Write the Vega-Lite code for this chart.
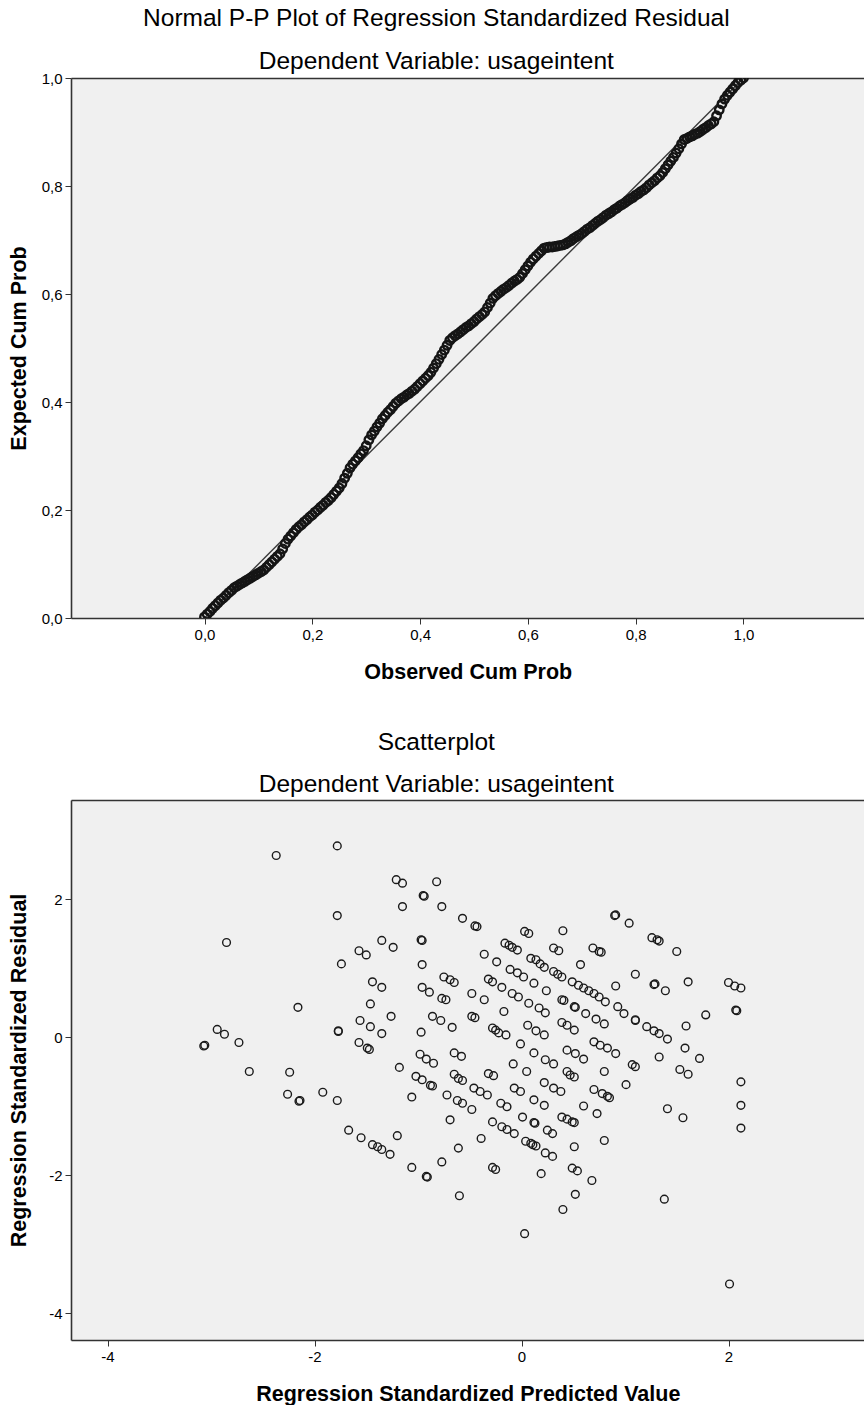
{
  "$schema": "https://vega.github.io/schema/vega-lite/v6.json",
  "background": "white",
  "padding": {"left": 8, "top": 6, "right": 0, "bottom": 0},
  "config": {
    "font": "Liberation Sans",
    "view": {"stroke": null},
    "axis": {
      "labelFont": "Liberation Sans",
      "titleFont": "Liberation Sans",
      "labelFontSize": 15,
      "titleFontSize": 21.5,
      "titleFontWeight": "bold",
      "labelColor": "#000",
      "titleColor": "#000",
      "domainColor": "#333",
      "domainWidth": 1.6,
      "tickColor": "#333",
      "tickSize": 6,
      "tickWidth": 1,
      "grid": false,
      "labelPadding": 3
    },
    "title": {"font": "Liberation Sans", "fontWeight": "normal", "color": "#000", "subtitleColor": "#000", "subtitleFont": "Liberation Sans", "anchor": "middle", "frame": "bounds"}
  },
  "spacing": 46,
  "vconcat": [
    {
      "title": {"text": "Normal P-P Plot of Regression Standardized Residual", "subtitle": "Dependent Variable: usageintent", "fontSize": 24.5, "subtitleFontSize": 24.5, "subtitlePadding": 18, "offset": -3, "frame": "bounds"},
      "width": 793.5,
      "height": 540,
      "view": {"fill": "#f0f0f0", "stroke": null},
      "resolve": {"axis": {"x": "independent"}},
      "layer": [
        {
          "data": {"values": [{"observed": 0, "expected": 0}, {"observed": 1, "expected": 1}]},
          "mark": {"type": "line", "color": "#3a3a3a", "strokeWidth": 1.4, "clip": true},
          "encoding": {
            "x": {"field": "observed", "type": "quantitative", "scale": {"domain": [-0.2477, 1.2245], "nice": false, "zero": false},
                  "axis": {"orient": "top", "labels": false, "ticks": false, "title": null}},
            "y": {"field": "expected", "type": "quantitative", "scale": {"domain": [0, 1], "nice": false},
                  "axis": {"values": [0, 0.2, 0.4, 0.6, 0.8, 1], "labelExpr": "replace(format(datum.value, '.1f'), '.', ',')", "title": "Expected Cum Prob", "titlePadding": 11}}
          }
        },
        {
          "data": {"values": [
            {"observed":0.000,"expected":0.002},{"observed":0.005,"expected":0.007},{"observed":0.010,"expected":0.012},{"observed":0.015,"expected":0.018},{"observed":0.020,"expected":0.023},
            {"observed":0.025,"expected":0.028},{"observed":0.030,"expected":0.033},{"observed":0.035,"expected":0.037},{"observed":0.040,"expected":0.042},{"observed":0.045,"expected":0.047},
            {"observed":0.050,"expected":0.051},{"observed":0.055,"expected":0.056},{"observed":0.060,"expected":0.059},{"observed":0.065,"expected":0.062},{"observed":0.070,"expected":0.065},
            {"observed":0.075,"expected":0.068},{"observed":0.080,"expected":0.071},{"observed":0.085,"expected":0.074},{"observed":0.090,"expected":0.077},{"observed":0.095,"expected":0.080},
            {"observed":0.100,"expected":0.083},{"observed":0.105,"expected":0.086},{"observed":0.110,"expected":0.089},{"observed":0.115,"expected":0.094},{"observed":0.120,"expected":0.099},
            {"observed":0.125,"expected":0.104},{"observed":0.130,"expected":0.109},{"observed":0.135,"expected":0.114},{"observed":0.140,"expected":0.119},{"observed":0.145,"expected":0.128},
            {"observed":0.150,"expected":0.138},{"observed":0.155,"expected":0.146},{"observed":0.160,"expected":0.152},{"observed":0.165,"expected":0.158},{"observed":0.170,"expected":0.164},
            {"observed":0.175,"expected":0.169},{"observed":0.180,"expected":0.173},{"observed":0.185,"expected":0.178},{"observed":0.190,"expected":0.182},{"observed":0.195,"expected":0.187},
            {"observed":0.200,"expected":0.191},{"observed":0.205,"expected":0.196},{"observed":0.210,"expected":0.200},{"observed":0.215,"expected":0.205},{"observed":0.220,"expected":0.209},
            {"observed":0.225,"expected":0.214},{"observed":0.230,"expected":0.218},{"observed":0.235,"expected":0.223},{"observed":0.240,"expected":0.229},{"observed":0.245,"expected":0.235},
            {"observed":0.250,"expected":0.241},{"observed":0.255,"expected":0.249},{"observed":0.260,"expected":0.259},{"observed":0.265,"expected":0.268},{"observed":0.270,"expected":0.278},
            {"observed":0.275,"expected":0.285},{"observed":0.280,"expected":0.291},{"observed":0.285,"expected":0.297},{"observed":0.290,"expected":0.304},{"observed":0.295,"expected":0.310},
            {"observed":0.300,"expected":0.319},{"observed":0.305,"expected":0.330},{"observed":0.310,"expected":0.339},{"observed":0.315,"expected":0.346},{"observed":0.320,"expected":0.354},
            {"observed":0.325,"expected":0.361},{"observed":0.330,"expected":0.369},{"observed":0.335,"expected":0.375},{"observed":0.340,"expected":0.381},{"observed":0.345,"expected":0.386},
            {"observed":0.350,"expected":0.392},{"observed":0.355,"expected":0.398},{"observed":0.360,"expected":0.402},{"observed":0.365,"expected":0.406},{"observed":0.370,"expected":0.409},
            {"observed":0.375,"expected":0.413},{"observed":0.380,"expected":0.416},{"observed":0.385,"expected":0.420},{"observed":0.390,"expected":0.424},{"observed":0.395,"expected":0.429},
            {"observed":0.400,"expected":0.434},{"observed":0.405,"expected":0.439},{"observed":0.410,"expected":0.444},{"observed":0.415,"expected":0.449},{"observed":0.420,"expected":0.455},
            {"observed":0.425,"expected":0.463},{"observed":0.430,"expected":0.471},{"observed":0.435,"expected":0.479},{"observed":0.440,"expected":0.488},{"observed":0.445,"expected":0.496},
            {"observed":0.450,"expected":0.505},{"observed":0.455,"expected":0.514},{"observed":0.460,"expected":0.519},{"observed":0.465,"expected":0.523},{"observed":0.470,"expected":0.526},
            {"observed":0.475,"expected":0.530},{"observed":0.480,"expected":0.534},{"observed":0.485,"expected":0.538},{"observed":0.490,"expected":0.541},{"observed":0.495,"expected":0.545},
            {"observed":0.500,"expected":0.549},{"observed":0.505,"expected":0.554},{"observed":0.510,"expected":0.558},{"observed":0.515,"expected":0.562},{"observed":0.520,"expected":0.567},
            {"observed":0.525,"expected":0.575},{"observed":0.530,"expected":0.583},{"observed":0.535,"expected":0.592},{"observed":0.540,"expected":0.597},{"observed":0.545,"expected":0.601},
            {"observed":0.550,"expected":0.605},{"observed":0.555,"expected":0.609},{"observed":0.560,"expected":0.612},{"observed":0.565,"expected":0.616},{"observed":0.570,"expected":0.620},
            {"observed":0.575,"expected":0.624},{"observed":0.580,"expected":0.627},{"observed":0.585,"expected":0.631},{"observed":0.590,"expected":0.638},{"observed":0.595,"expected":0.645},
            {"observed":0.600,"expected":0.652},{"observed":0.605,"expected":0.659},{"observed":0.610,"expected":0.665},{"observed":0.615,"expected":0.670},{"observed":0.620,"expected":0.675},
            {"observed":0.625,"expected":0.680},{"observed":0.630,"expected":0.685},{"observed":0.635,"expected":0.686},{"observed":0.640,"expected":0.687},{"observed":0.645,"expected":0.687},
            {"observed":0.650,"expected":0.688},{"observed":0.655,"expected":0.689},{"observed":0.660,"expected":0.690},{"observed":0.665,"expected":0.691},{"observed":0.670,"expected":0.693},
            {"observed":0.675,"expected":0.696},{"observed":0.680,"expected":0.699},{"observed":0.685,"expected":0.703},{"observed":0.690,"expected":0.706},{"observed":0.695,"expected":0.709},
            {"observed":0.700,"expected":0.712},{"observed":0.705,"expected":0.716},{"observed":0.710,"expected":0.720},{"observed":0.715,"expected":0.723},{"observed":0.720,"expected":0.727},
            {"observed":0.725,"expected":0.731},{"observed":0.730,"expected":0.735},{"observed":0.735,"expected":0.738},{"observed":0.740,"expected":0.742},{"observed":0.745,"expected":0.746},
            {"observed":0.750,"expected":0.749},{"observed":0.755,"expected":0.752},{"observed":0.760,"expected":0.756},{"observed":0.765,"expected":0.759},{"observed":0.770,"expected":0.763},
            {"observed":0.775,"expected":0.766},{"observed":0.780,"expected":0.769},{"observed":0.785,"expected":0.773},{"observed":0.790,"expected":0.776},{"observed":0.795,"expected":0.779},
            {"observed":0.800,"expected":0.783},{"observed":0.805,"expected":0.786},{"observed":0.810,"expected":0.790},{"observed":0.815,"expected":0.793},{"observed":0.820,"expected":0.797},
            {"observed":0.825,"expected":0.802},{"observed":0.830,"expected":0.806},{"observed":0.835,"expected":0.810},{"observed":0.840,"expected":0.815},{"observed":0.845,"expected":0.819},
            {"observed":0.850,"expected":0.825},{"observed":0.855,"expected":0.832},{"observed":0.860,"expected":0.839},{"observed":0.865,"expected":0.846},{"observed":0.870,"expected":0.853},
            {"observed":0.875,"expected":0.861},{"observed":0.880,"expected":0.869},{"observed":0.885,"expected":0.878},{"observed":0.890,"expected":0.886},{"observed":0.895,"expected":0.888},
            {"observed":0.900,"expected":0.891},{"observed":0.905,"expected":0.893},{"observed":0.910,"expected":0.896},{"observed":0.915,"expected":0.898},{"observed":0.920,"expected":0.901},
            {"observed":0.925,"expected":0.905},{"observed":0.930,"expected":0.908},{"observed":0.935,"expected":0.912},{"observed":0.940,"expected":0.915},{"observed":0.945,"expected":0.919},
            {"observed":0.950,"expected":0.930},{"observed":0.955,"expected":0.941},{"observed":0.960,"expected":0.952},{"observed":0.965,"expected":0.961},{"observed":0.970,"expected":0.968},
            {"observed":0.975,"expected":0.974},{"observed":0.980,"expected":0.980},{"observed":0.985,"expected":0.986},{"observed":0.990,"expected":0.992},{"observed":0.995,"expected":0.996},
            {"observed":1.000,"expected":1.000}
          ]},
          "mark": {"type": "point", "shape": "circle", "filled": false, "size": 72, "stroke": "#151515", "strokeWidth": 2.4, "opacity": 1, "clip": true},
          "encoding": {
            "x": {"field": "observed", "type": "quantitative", "scale": {"domain": [-0.2477, 1.2245], "nice": false, "zero": false},
                  "axis": {"orient": "bottom", "values": [0, 0.2, 0.4, 0.6, 0.8, 1], "labelExpr": "replace(format(datum.value, '.1f'), '.', ',')", "title": "Observed Cum Prob", "titlePadding": 19}},
            "y": {"field": "expected", "type": "quantitative", "scale": {"domain": [0, 1], "nice": false},
                  "axis": {"values": [0, 0.2, 0.4, 0.6, 0.8, 1], "labelExpr": "replace(format(datum.value, '.1f'), '.', ',')", "title": "Expected Cum Prob", "titlePadding": 11}}
          }
        }
      ]
    },
    {
      "title": {"text": "Scatterplot", "subtitle": "Dependent Variable: usageintent", "fontSize": 24.5, "subtitleFontSize": 24.5, "subtitlePadding": 18, "offset": 2.5, "frame": "bounds"},
      "width": 793.5,
      "height": 540,
      "view": {"fill": "#f0f0f0", "stroke": null},
      "resolve": {"axis": {"x": "independent"}},
      "layer": [
        {
          "data": {"values": [{"pred": 0, "resid": 0}]},
          "mark": {"type": "point", "opacity": 0},
          "encoding": {
            "x": {"field": "pred", "type": "quantitative", "scale": {"domain": [-4.3527, 3.314], "nice": false, "zero": false},
                  "axis": {"orient": "top", "labels": false, "ticks": false, "title": null}},
            "y": {"field": "resid", "type": "quantitative", "scale": {"domain": [-4.391, 3.435], "nice": false, "zero": false},
                  "axis": {"values": [-4, -2, 0, 2], "labelExpr": "datum.value < 0 ? '-' + abs(datum.value) : '' + datum.value", "title": "Regression Standardized Residual", "titlePadding": 18.5}}
          }
        },
        {
          "data": {"values": [
            {"pred":-2.37,"resid":2.63},{"pred":-1.78,"resid":2.77},{"pred":-1.21,"resid":2.28},{"pred":-1.15,"resid":2.23},{"pred":-0.95,"resid":2.05},{"pred":-0.94,"resid":2.04},
            {"pred":-1.15,"resid":1.89},{"pred":-1.78,"resid":1.76},{"pred":-2.85,"resid":1.37},{"pred":-1.35,"resid":1.40},{"pred":-1.24,"resid":1.30},{"pred":-1.57,"resid":1.25},
            {"pred":-1.50,"resid":1.19},{"pred":-0.97,"resid":1.41},{"pred":-0.96,"resid":1.40},{"pred":-1.74,"resid":1.06},{"pred":-0.96,"resid":1.05},{"pred":-1.44,"resid":0.80},
            {"pred":-1.35,"resid":0.72},{"pred":-0.96,"resid":0.72},{"pred":-0.89,"resid":0.65},{"pred":-1.46,"resid":0.48},{"pred":-2.16,"resid":0.43},{"pred":-1.26,"resid":0.30},
            {"pred":-0.86,"resid":0.30},{"pred":-1.56,"resid":0.24},{"pred":-1.46,"resid":0.15},{"pred":-1.35,"resid":0.05},{"pred":-0.97,"resid":0.07},{"pred":-1.77,"resid":0.09},
            {"pred":-1.77,"resid":0.08},{"pred":-2.94,"resid":0.11},{"pred":-2.87,"resid":0.04},{"pred":-2.73,"resid":-0.08},{"pred":-3.07,"resid":-0.13},{"pred":-3.06,"resid":-0.12},
            {"pred":-1.57,"resid":-0.08},{"pred":-1.49,"resid":-0.16},{"pred":-1.47,"resid":-0.18},{"pred":-0.98,"resid":-0.25},{"pred":-0.92,"resid":-0.32},{"pred":-1.18,"resid":-0.44},
            {"pred":-2.63,"resid":-0.50},{"pred":-2.24,"resid":-0.51},{"pred":-1.02,"resid":-0.57},{"pred":-0.96,"resid":-0.62},{"pred":-0.88,"resid":-0.70},
            {"pred":-2.26,"resid":-0.83},{"pred":-2.15,"resid":-0.93},{"pred":-2.14,"resid":-0.92},{"pred":-1.92,"resid":-0.80},{"pred":-1.78,"resid":-0.92},{"pred":-1.06,"resid":-0.87},
            {"pred":-1.67,"resid":-1.35},{"pred":-1.55,"resid":-1.46},{"pred":-1.44,"resid":-1.56},{"pred":-1.39,"resid":-1.59},{"pred":-1.35,"resid":-1.63},{"pred":-1.27,"resid":-1.70},
            {"pred":-1.20,"resid":-1.43},{"pred":-1.06,"resid":-1.89},{"pred":-0.92,"resid":-2.02},{"pred":-0.91,"resid":-2.03},
            {"pred":-0.82,"resid":2.25},{"pred":-0.77,"resid":1.89},{"pred":-0.57,"resid":1.72},{"pred":-0.45,"resid":1.61},{"pred":-0.43,"resid":1.60},{"pred":0.90,"resid":1.76},
            {"pred":0.91,"resid":1.77},{"pred":0.03,"resid":1.53},{"pred":0.07,"resid":1.50},{"pred":0.40,"resid":1.54},{"pred":-0.16,"resid":1.36},{"pred":-0.12,"resid":1.33},
            {"pred":-0.09,"resid":1.30},{"pred":-0.04,"resid":1.26},{"pred":-0.36,"resid":1.20},{"pred":-0.24,"resid":1.09},
            {"pred":0.09,"resid":1.14},{"pred":0.14,"resid":1.12},{"pred":0.18,"resid":1.06},{"pred":0.22,"resid":1.01},{"pred":0.31,"resid":0.95},{"pred":0.35,"resid":0.91},
            {"pred":0.39,"resid":0.87},{"pred":0.49,"resid":0.80},{"pred":0.55,"resid":0.75},{"pred":0.60,"resid":0.71},{"pred":0.65,"resid":0.67},{"pred":0.70,"resid":0.63},
            {"pred":0.75,"resid":0.58},{"pred":0.81,"resid":0.51},{"pred":0.93,"resid":0.44},{"pred":0.99,"resid":0.34},{"pred":1.10,"resid":0.25},{"pred":1.10,"resid":0.24},
            {"pred":1.21,"resid":0.15},{"pred":1.28,"resid":0.09},{"pred":1.33,"resid":0.05},{"pred":1.41,"resid":-0.03},
            {"pred":0.31,"resid":1.29},{"pred":0.36,"resid":1.25},{"pred":0.69,"resid":1.29},{"pred":0.75,"resid":1.24},{"pred":0.57,"resid":1.05},
            {"pred":-0.11,"resid":0.98},{"pred":-0.04,"resid":0.93},{"pred":0.02,"resid":0.87},{"pred":0.12,"resid":0.78},{"pred":0.24,"resid":0.67},
            {"pred":-0.75,"resid":0.87},{"pred":-0.69,"resid":0.83},{"pred":-0.65,"resid":0.79},{"pred":-0.32,"resid":0.84},{"pred":-0.28,"resid":0.80},{"pred":-0.19,"resid":0.72},
            {"pred":-0.09,"resid":0.63},{"pred":-0.03,"resid":0.58},{"pred":0.07,"resid":0.49},{"pred":0.17,"resid":0.42},{"pred":0.23,"resid":0.35},
            {"pred":-0.77,"resid":0.56},{"pred":-0.73,"resid":0.54},{"pred":-0.48,"resid":0.63},{"pred":-0.36,"resid":0.54},
            {"pred":0.39,"resid":0.54},{"pred":0.41,"resid":0.53},{"pred":0.51,"resid":0.44},{"pred":0.52,"resid":0.43},{"pred":0.62,"resid":0.34},{"pred":0.72,"resid":0.26},{"pred":0.80,"resid":0.19},
            {"pred":0.91,"resid":0.74},{"pred":-0.17,"resid":0.37},{"pred":-0.78,"resid":0.24},{"pred":-0.67,"resid":0.14},{"pred":-0.48,"resid":0.30},{"pred":-0.45,"resid":0.28},
            {"pred":-0.28,"resid":0.13},{"pred":-0.25,"resid":0.10},{"pred":-0.22,"resid":0.06},{"pred":-0.15,"resid":0.03},
            {"pred":0.06,"resid":0.17},{"pred":0.14,"resid":0.09},{"pred":0.22,"resid":0.03},{"pred":0.39,"resid":0.21},{"pred":0.44,"resid":0.17},{"pred":0.51,"resid":0.10},
            {"pred":0.70,"resid":-0.07},{"pred":0.76,"resid":-0.12},{"pred":0.83,"resid":-0.16},{"pred":0.91,"resid":-0.24},
            {"pred":-0.01,"resid":-0.10},{"pred":0.12,"resid":-0.23},{"pred":0.23,"resid":-0.33},{"pred":0.31,"resid":-0.39},
            {"pred":0.44,"resid":-0.19},{"pred":0.52,"resid":-0.24},{"pred":0.60,"resid":-0.32},
            {"pred":-0.65,"resid":-0.23},{"pred":-0.58,"resid":-0.28},{"pred":-0.85,"resid":-0.38},{"pred":-0.08,"resid":-0.39},{"pred":0.05,"resid":-0.50},{"pred":0.80,"resid":-0.50},
            {"pred":-0.32,"resid":-0.53},{"pred":-0.27,"resid":-0.56},{"pred":-0.65,"resid":-0.54},{"pred":-0.61,"resid":-0.60},{"pred":-0.57,"resid":-0.63},{"pred":0.44,"resid":-0.50},
            {"pred":0.47,"resid":-0.55},{"pred":0.51,"resid":-0.58},
            {"pred":-0.86,"resid":-0.71},{"pred":0.22,"resid":-0.66},{"pred":0.31,"resid":-0.74},{"pred":0.38,"resid":-0.79},{"pred":0.70,"resid":-0.76},{"pred":0.78,"resid":-0.82},
            {"pred":0.83,"resid":-0.86},{"pred":0.85,"resid":-0.88},
            {"pred":-0.46,"resid":-0.74},{"pred":-0.40,"resid":-0.79},{"pred":-0.33,"resid":-0.84},{"pred":-0.07,"resid":-0.74},{"pred":-0.01,"resid":-0.79},{"pred":-0.72,"resid":-0.84},
            {"pred":-0.62,"resid":-0.92},{"pred":-0.57,"resid":-0.96},{"pred":-0.48,"resid":-1.05},{"pred":-0.20,"resid":-0.96},{"pred":-0.14,"resid":-1.01},{"pred":0.12,"resid":-0.91},
            {"pred":0.22,"resid":-0.99},{"pred":0.60,"resid":-1.00},{"pred":0.73,"resid":-1.11},{"pred":-0.69,"resid":-1.20},{"pred":-0.28,"resid":-1.23},{"pred":0.01,"resid":-1.16},
            {"pred":0.13,"resid":-1.25},{"pred":0.12,"resid":-1.24},{"pred":0.25,"resid":-1.35},{"pred":0.30,"resid":-1.40},{"pred":0.39,"resid":-1.16},{"pred":0.44,"resid":-1.19},
            {"pred":0.49,"resid":-1.23},{"pred":0.51,"resid":-1.24},{"pred":-0.19,"resid":-1.30},{"pred":-0.14,"resid":-1.34},{"pred":-0.07,"resid":-1.40},{"pred":0.04,"resid":-1.51},
            {"pred":0.09,"resid":-1.54},{"pred":0.11,"resid":-1.56},{"pred":0.14,"resid":-1.58},{"pred":0.23,"resid":-1.68},{"pred":0.30,"resid":-1.73},{"pred":-0.39,"resid":-1.47},
            {"pred":-0.61,"resid":-1.61},{"pred":-0.77,"resid":-1.81},{"pred":-0.28,"resid":-1.89},{"pred":-0.25,"resid":-1.92},{"pred":0.51,"resid":-1.59},{"pred":0.49,"resid":-1.90},
            {"pred":0.54,"resid":-1.94},{"pred":0.80,"resid":-1.50},{"pred":0.19,"resid":-1.98},{"pred":0.68,"resid":-2.08},{"pred":0.52,"resid":-2.28},{"pred":-0.60,"resid":-2.30},
            {"pred":0.40,"resid":-2.50},{"pred":0.03,"resid":-2.85},
            {"pred":1.04,"resid":1.65},{"pred":1.26,"resid":1.44},{"pred":1.31,"resid":1.41},{"pred":1.33,"resid":1.39},{"pred":1.50,"resid":1.24},{"pred":0.77,"resid":1.23},
            {"pred":1.10,"resid":0.91},{"pred":1.28,"resid":0.76},{"pred":1.29,"resid":0.77},{"pred":1.39,"resid":0.67},{"pred":1.61,"resid":0.80},{"pred":2.00,"resid":0.79},
            {"pred":2.06,"resid":0.74},{"pred":2.12,"resid":0.71},{"pred":2.07,"resid":0.39},{"pred":2.08,"resid":0.38},{"pred":1.78,"resid":0.32},{"pred":1.59,"resid":0.16},
            {"pred":1.58,"resid":-0.16},{"pred":1.33,"resid":-0.29},{"pred":1.72,"resid":-0.31},{"pred":1.07,"resid":-0.40},{"pred":1.10,"resid":-0.43},{"pred":1.53,"resid":-0.47},
            {"pred":1.61,"resid":-0.54},{"pred":1.01,"resid":-0.69},{"pred":2.12,"resid":-0.65},{"pred":1.41,"resid":-1.04},{"pred":1.56,"resid":-1.17},{"pred":2.12,"resid":-0.99},
            {"pred":2.12,"resid":-1.32},{"pred":1.38,"resid":-2.35},{"pred":2.01,"resid":-3.58}
          ]},
          "mark": {"type": "point", "shape": "circle", "filled": false, "size": 60, "stroke": "#1a1a1a", "strokeWidth": 1.4, "opacity": 1},
          "encoding": {
            "x": {"field": "pred", "type": "quantitative", "scale": {"domain": [-4.3527, 3.314], "nice": false, "zero": false},
                  "axis": {"orient": "bottom", "values": [-4, -2, 0, 2], "labelExpr": "datum.value < 0 ? '-' + abs(datum.value) : '' + datum.value", "title": "Regression Standardized Predicted Value", "titlePadding": 19}},
            "y": {"field": "resid", "type": "quantitative", "scale": {"domain": [-4.391, 3.435], "nice": false, "zero": false},
                  "axis": {"values": [-4, -2, 0, 2], "labelExpr": "datum.value < 0 ? '-' + abs(datum.value) : '' + datum.value", "title": "Regression Standardized Residual", "titlePadding": 18.5}}
          }
        }
      ]
    }
  ]
}
